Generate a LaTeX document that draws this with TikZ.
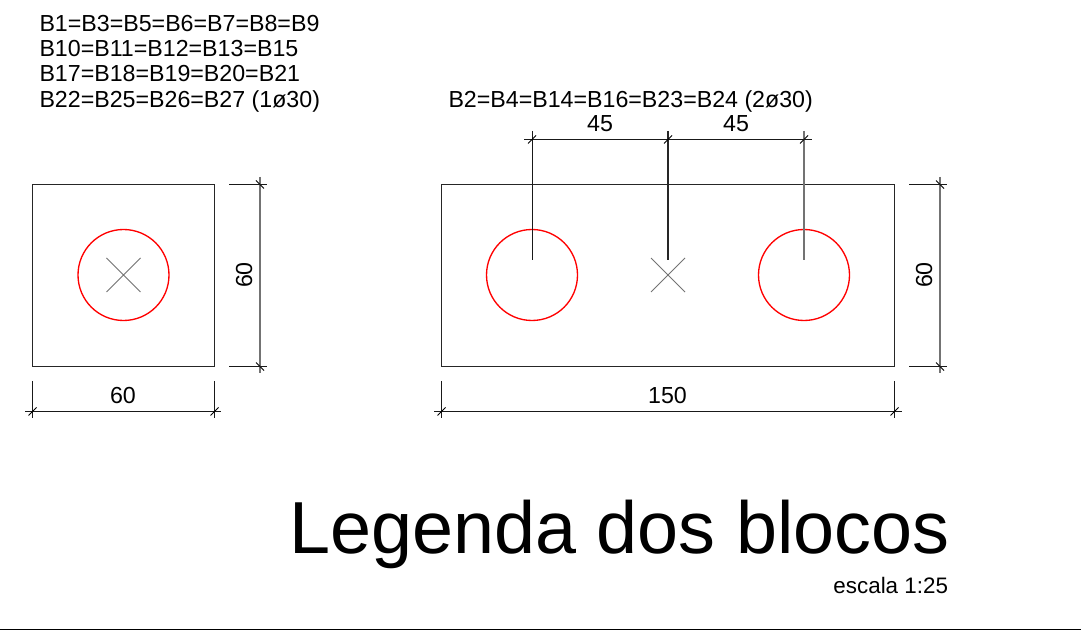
\documentclass[tikz,border=0pt]{standalone}
\usepackage{fontspec}
\setmainfont{Liberation Sans}
\tikzset{
  lbl/.style={inner sep=0pt,outer sep=0pt,font=\fontsize{17.4pt}{20pt}\selectfont},
  small/.style={inner sep=0pt,outer sep=0pt,font=\fontsize{16.8pt}{20pt}\selectfont},
  ttl/.style={inner sep=0pt,outer sep=0pt,font=\fontsize{55.3pt}{60pt}\selectfont},
  outline/.style={draw=black!85,line width=0.75pt},
  dimline/.style={draw=black!90,line width=0.75pt},
  soft/.style={draw=black!55,line width=1.1pt},
  heavy/.style={draw=black!85,line width=1.2pt},
  tick/.style={draw=black,line width=0.6pt},
  bar/.style={draw=red,line width=1pt},
  cross/.style={draw=black!55,line width=0.55pt},
}
\begin{document}
\begin{tikzpicture}[x=0.75pt,y=-0.75pt]
\useasboundingbox (0,0) rectangle (1081,630);
\fill[white] (0,0) rectangle (1081,630);
% text list
\node[lbl,anchor=base west] (l1) at (39.5,32) {B1=B3=B5=B6=B7=B8=B9};
\node[lbl,anchor=base west] (l2) at (39.5,57) {B10=B11=B12=B13=B15};
\node[lbl,anchor=base west] (l3) at (39.5,82) {B17=B18=B19=B20=B21};
\node[lbl,anchor=base west] (l4) at (39.5,107.5) {B22=B25=B26=B27 (1ø30)};
\node[lbl,anchor=base west] (l5) at (448.5,107.5) {B2=B4=B14=B16=B23=B24 (2ø30)};
% blocks
\draw[outline] (32.5,184.5) rectangle (214.5,366.5);
\draw[outline] (441.5,184.5) rectangle (894.5,366.5);
% bars
\draw[bar] (123.5,275) circle (45.5);
\draw[bar] (532,275) circle (45.5);
\draw[bar] (804,275) circle (45.5);
% crosses
\draw[cross] (106.5,258) -- (140.5,292) (106.5,292) -- (140.5,258);
\draw[cross] (651,258) -- (685,292) (651,292) -- (685,258);
% left vertical dim
\draw[dimline] (229,184.5) -- (267,184.5) (229,366.5) -- (267,366.5);
\draw[soft] (260,177) -- (260,373);
\draw[tick] (256,180.5) -- (264,188.5) (256,362.5) -- (264,370.5);
\node[lbl,rotate=90,anchor=base] (d1) at (252,275) {60};
% left horizontal dim
\draw[dimline] (32.5,381) -- (32.5,418) (214.5,381) -- (214.5,418) (25,411.5) -- (221,411.5);
\draw[tick] (28.5,415.5) -- (36.5,407.5) (210.5,415.5) -- (218.5,407.5);
\node[lbl,anchor=base] (d2) at (123,404) {60};
% right vertical dim
\draw[dimline] (909,184.5) -- (947,184.5) (909,366.5) -- (947,366.5);
\draw[soft] (940,177) -- (940,373);
\draw[tick] (936,180.5) -- (944,188.5) (936,362.5) -- (944,370.5);
\node[lbl,rotate=90,anchor=base] (d3) at (932,275) {60};
% right horizontal dim
\draw[dimline] (441.5,381) -- (441.5,418) (894.5,381) -- (894.5,418) (434,411.5) -- (902,411.5);
\draw[tick] (437.5,415.5) -- (445.5,407.5) (890.5,415.5) -- (898.5,407.5);
\node[lbl,anchor=base] (d4) at (667.5,404) {150};
% top dims
\draw[dimline] (524,139.5) -- (812,139.5);
\draw[dimline] (532,131) -- (532,260);
\draw[soft] (804,131) -- (804,260);
\draw[heavy] (668,131) -- (668,260);
\draw[tick] (528,143.5) -- (536,135.5) (664,143.5) -- (672,135.5) (800,143.5) -- (808,135.5);
\node[lbl,anchor=base] (d5) at (600,132) {45};
\node[lbl,anchor=base] (d6) at (736,132) {45};
% title
\node[ttl,anchor=base east] (t) at (949.5,553) {Legenda dos blocos};
\node[small,anchor=base east] (s) at (948,593) {escala 1:25};
% bottom rule
\draw[draw=black,line width=0.7pt] (0,629.5) -- (1081,629.5);
\end{tikzpicture}
\end{document}
